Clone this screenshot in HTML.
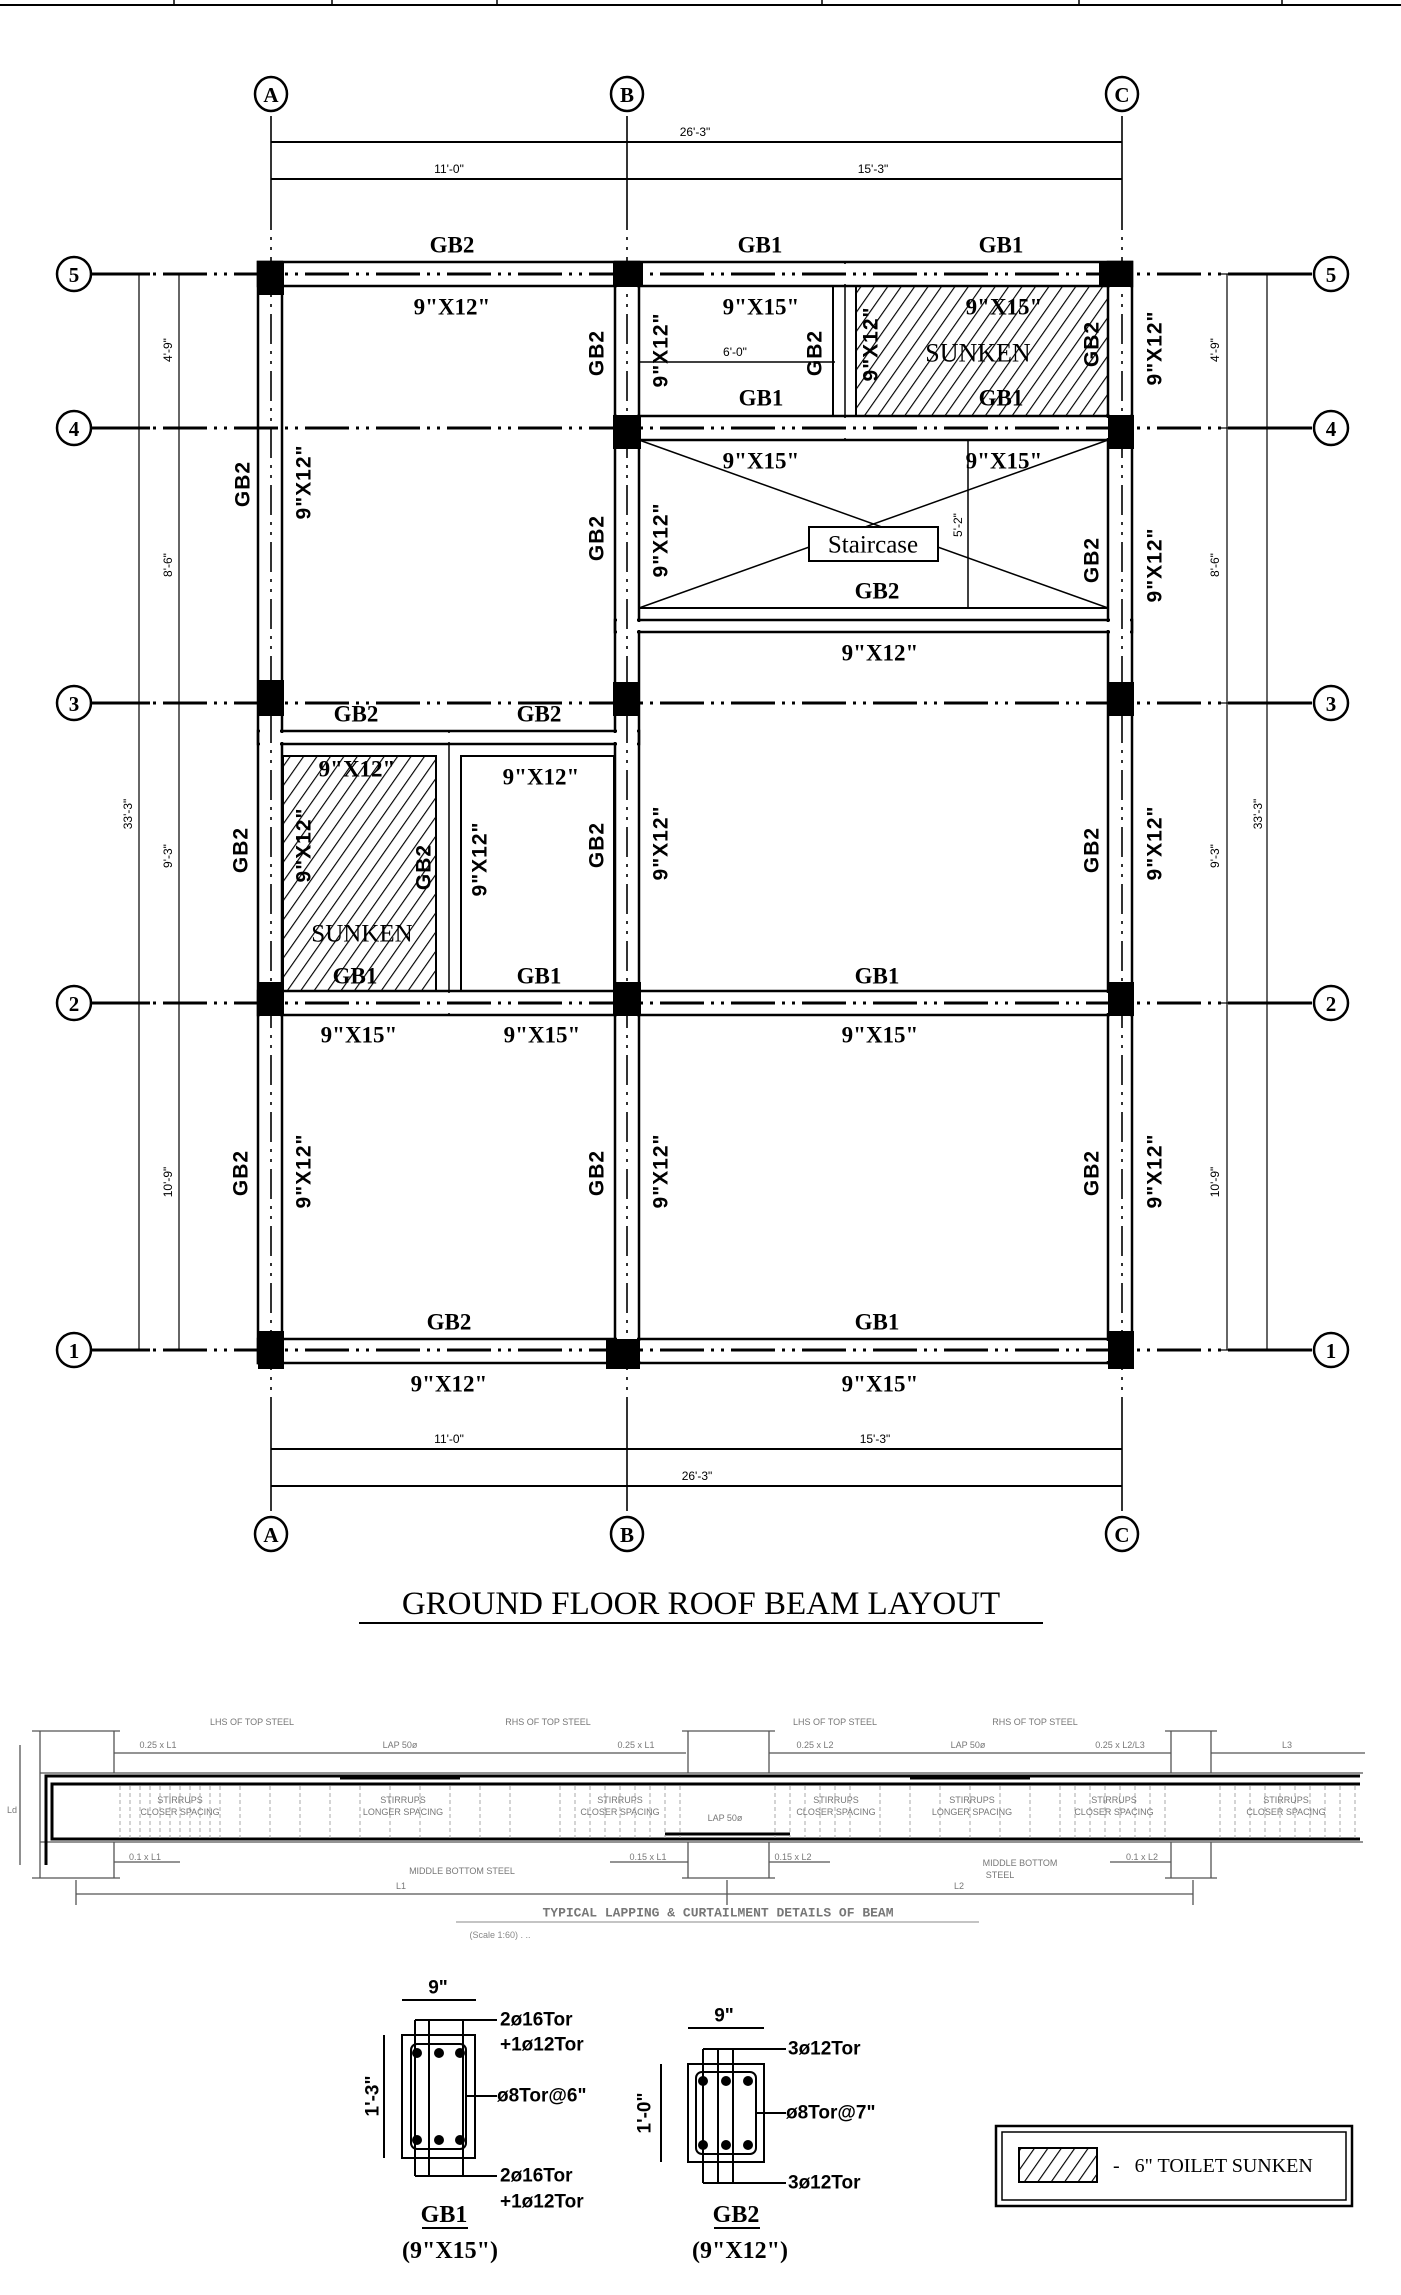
<!DOCTYPE html>
<html><head><meta charset="utf-8"><style>
html,body{margin:0;padding:0;background:#fff;}
svg{display:block;}
.b{font-family:"Liberation Serif",serif;font-weight:bold;font-size:23px;text-anchor:middle;dominant-baseline:central;}
.v{font-family:"Liberation Sans",sans-serif;font-weight:bold;font-size:21px;letter-spacing:1px;text-anchor:middle;dominant-baseline:central;}
.d{font-family:"Liberation Sans",sans-serif;font-size:12px;text-anchor:middle;dominant-baseline:central;}
.s{font-family:"Liberation Sans",sans-serif;font-size:9px;fill:#777;text-anchor:middle;dominant-baseline:central;}
.bub{font-family:"Liberation Serif",serif;font-weight:bold;font-size:21px;text-anchor:middle;dominant-baseline:central;}
</style></head><body>
<svg width="1401" height="2295" viewBox="0 0 1401 2295" xmlns="http://www.w3.org/2000/svg">
<defs>
<pattern id="h" width="11" height="11" patternUnits="userSpaceOnUse" patternTransform="rotate(35)">
<line x1="0" y1="0" x2="0" y2="11" stroke="#000" stroke-width="2.3"/>
</pattern>
</defs>
<rect width="1401" height="2295" fill="#fff"/>
<line x1="0" y1="5" x2="1401" y2="5" stroke="#000" stroke-width="2"/>
<g stroke="#000" stroke-width="1.5">
<line x1="174" y1="0" x2="174" y2="5"/><line x1="332" y1="0" x2="332" y2="5"/><line x1="497" y1="0" x2="497" y2="5"/><line x1="822" y1="0" x2="822" y2="5"/><line x1="1079" y1="0" x2="1079" y2="5"/><line x1="1282" y1="0" x2="1282" y2="5"/>
</g>

<rect x="856" y="286" width="252" height="130" fill="url(#h)"/>
<rect x="283" y="756" width="153" height="235" fill="url(#h)"/>

<g fill="none" stroke="#000" stroke-width="2">
<rect x="639" y="286" width="194" height="130"/>
<rect x="856" y="286" width="252" height="130"/>
<rect x="639" y="440" width="469" height="168"/>
<rect x="639" y="632" width="469" height="359"/>
<rect x="283" y="756" width="153" height="235"/>
<rect x="461" y="756" width="153" height="235"/>
</g>
<g stroke="#000" stroke-width="1.5">
<line x1="845" y1="262" x2="845" y2="440"/>
<line x1="449" y1="731" x2="449" y2="1015"/>
<line x1="639" y1="440" x2="1108" y2="608"/>
<line x1="1108" y1="440" x2="639" y2="608"/>
<line x1="639" y1="362" x2="835" y2="362"/>
<line x1="968" y1="440" x2="968" y2="608"/>
</g>
<rect x="809" y="527" width="129" height="34" fill="#fff" stroke="#000" stroke-width="2"/>

<g fill="none" stroke="#000" stroke-width="2.5">
<rect x="258" y="262" width="24" height="1101"/>
<rect x="615" y="262" width="24" height="1101"/>
<rect x="1108" y="262" width="24" height="1101"/>
<rect x="258" y="262" width="874" height="24"/>
<rect x="615" y="416" width="517" height="24"/>
<rect x="615" y="620" width="517" height="12"/>
<rect x="258" y="731" width="381" height="13"/>
<rect x="258" y="991" width="874" height="24"/>
<rect x="258" y="1339" width="874" height="24"/>
</g>
<g fill="#fff">
<rect x="260" y="264" width="20" height="1097"/>
<rect x="617" y="264" width="20" height="1097"/>
<rect x="1110" y="264" width="20" height="1097"/>
<rect x="260" y="264" width="870" height="20"/>
<rect x="617" y="418" width="513" height="20"/>
<rect x="617" y="622" width="513" height="8"/>
<rect x="260" y="733" width="377" height="9"/>
<rect x="260" y="993" width="870" height="20"/>
<rect x="260" y="1341" width="870" height="20"/>
</g>

<g stroke="#000" stroke-width="3" stroke-dasharray="44 7 3 7 3 7">
<line x1="92" y1="274" x2="1312" y2="274"/>
<line x1="92" y1="428" x2="1312" y2="428"/>
<line x1="92" y1="703" x2="1312" y2="703"/>
<line x1="92" y1="1003" x2="1312" y2="1003"/>
<line x1="92" y1="1350" x2="1312" y2="1350"/>
</g>
<g stroke="#000" stroke-width="1.6" stroke-dasharray="30 7 3 7 3 7">
<line x1="271" y1="200" x2="271" y2="1420"/>
<line x1="627" y1="200" x2="627" y2="1420"/>
<line x1="1122" y1="200" x2="1122" y2="1420"/>
</g>
<g stroke="#000" stroke-width="3">
<line x1="92" y1="274" x2="150" y2="274"/><line x1="1260" y1="274" x2="1312" y2="274"/>
<line x1="92" y1="428" x2="150" y2="428"/><line x1="1260" y1="428" x2="1312" y2="428"/>
<line x1="92" y1="703" x2="150" y2="703"/><line x1="1260" y1="703" x2="1312" y2="703"/>
<line x1="92" y1="1003" x2="150" y2="1003"/><line x1="1260" y1="1003" x2="1312" y2="1003"/>
<line x1="92" y1="1350" x2="150" y2="1350"/><line x1="1260" y1="1350" x2="1312" y2="1350"/>
</g>
<g stroke="#000" stroke-width="1.6">
<line x1="271" y1="116" x2="271" y2="200"/><line x1="627" y1="116" x2="627" y2="200"/><line x1="1122" y1="116" x2="1122" y2="200"/>
<line x1="271" y1="1420" x2="271" y2="1511"/><line x1="627" y1="1420" x2="627" y2="1511"/><line x1="1122" y1="1420" x2="1122" y2="1511"/>
</g>

<g fill="#000">
<rect x="257" y="261" width="27" height="34"/>
<rect x="613" y="261" width="30" height="26"/>
<rect x="1099" y="261" width="34" height="26"/>
<rect x="613" y="415" width="28" height="34"/>
<rect x="1108" y="415" width="26" height="34"/>
<rect x="258" y="680" width="26" height="36"/>
<rect x="613" y="682" width="26" height="34"/>
<rect x="1108" y="682" width="26" height="34"/>
<rect x="258" y="982" width="26" height="34"/>
<rect x="613" y="982" width="28" height="34"/>
<rect x="1108" y="982" width="26" height="34"/>
<rect x="258" y="1331" width="26" height="38"/>
<rect x="606" y="1339" width="34" height="30"/>
<rect x="1108" y="1331" width="26" height="38"/>
</g>

<g stroke="#000" stroke-width="2">
<line x1="271" y1="142" x2="1122" y2="142"/>
<line x1="271" y1="179" x2="1122" y2="179"/>
<line x1="271" y1="1449" x2="1122" y2="1449"/>
<line x1="271" y1="1486" x2="1122" y2="1486"/>
</g>
<g stroke="#000" stroke-width="1.2">
<line x1="139" y1="274" x2="139" y2="1350"/>
<line x1="179" y1="274" x2="179" y2="1350"/>
<line x1="1227" y1="274" x2="1227" y2="1350"/>
<line x1="1267" y1="274" x2="1267" y2="1350"/>
<line x1="132" y1="274" x2="146" y2="274"/><line x1="132" y1="1350" x2="146" y2="1350"/>
<line x1="172" y1="274" x2="186" y2="274"/><line x1="172" y1="428" x2="186" y2="428"/><line x1="172" y1="703" x2="186" y2="703"/><line x1="172" y1="1003" x2="186" y2="1003"/><line x1="172" y1="1350" x2="186" y2="1350"/>
<line x1="1220" y1="274" x2="1234" y2="274"/><line x1="1220" y1="428" x2="1234" y2="428"/><line x1="1220" y1="703" x2="1234" y2="703"/><line x1="1220" y1="1003" x2="1234" y2="1003"/><line x1="1220" y1="1350" x2="1234" y2="1350"/>
<line x1="1260" y1="274" x2="1274" y2="274"/><line x1="1260" y1="1350" x2="1274" y2="1350"/>
</g>

<g fill="#fff" stroke="#000" stroke-width="2.5">
<ellipse cx="271" cy="94" rx="16" ry="17"/><ellipse cx="627" cy="94" rx="16" ry="17"/><ellipse cx="1122" cy="94" rx="16" ry="17"/>
<ellipse cx="271" cy="1534" rx="16" ry="17"/><ellipse cx="627" cy="1534" rx="16" ry="17"/><ellipse cx="1122" cy="1534" rx="16" ry="17"/>
<ellipse cx="74" cy="274" rx="17" ry="17"/><ellipse cx="74" cy="428" rx="17" ry="17"/><ellipse cx="74" cy="703" rx="17" ry="17"/><ellipse cx="74" cy="1003" rx="17" ry="17"/><ellipse cx="74" cy="1350" rx="17" ry="17"/>
<ellipse cx="1331" cy="274" rx="17" ry="17"/><ellipse cx="1331" cy="428" rx="17" ry="17"/><ellipse cx="1331" cy="703" rx="17" ry="17"/><ellipse cx="1331" cy="1003" rx="17" ry="17"/><ellipse cx="1331" cy="1350" rx="17" ry="17"/>
</g>
<g>
<text x="271" y="95" class="bub">A</text><text x="627" y="95" class="bub">B</text><text x="1122" y="95" class="bub">C</text>
<text x="271" y="1535" class="bub">A</text><text x="627" y="1535" class="bub">B</text><text x="1122" y="1535" class="bub">C</text>
<text x="74" y="275" class="bub">5</text><text x="74" y="429" class="bub">4</text><text x="74" y="704" class="bub">3</text><text x="74" y="1004" class="bub">2</text><text x="74" y="1351" class="bub">1</text>
<text x="1331" y="275" class="bub">5</text><text x="1331" y="429" class="bub">4</text><text x="1331" y="704" class="bub">3</text><text x="1331" y="1004" class="bub">2</text><text x="1331" y="1351" class="bub">1</text>
</g>

<text x="695" y="132" class="d">26'-3"</text>
<text x="449" y="169" class="d">11'-0"</text>
<text x="873" y="169" class="d">15'-3"</text>
<text x="449" y="1439" class="d">11'-0"</text>
<text x="875" y="1439" class="d">15'-3"</text>
<text x="697" y="1476" class="d">26'-3"</text>
<text x="735" y="352" class="d">6'-0"</text>
<g>
<text transform="translate(168,350) rotate(-90)" class="d">4'-9"</text>
<text transform="translate(168,565) rotate(-90)" class="d">8'-6"</text>
<text transform="translate(168,856) rotate(-90)" class="d">9'-3"</text>
<text transform="translate(168,1182) rotate(-90)" class="d">10'-9"</text>
<text transform="translate(128,814) rotate(-90)" class="d">33'-3"</text>
<text transform="translate(1215,350) rotate(-90)" class="d">4'-9"</text>
<text transform="translate(1215,565) rotate(-90)" class="d">8'-6"</text>
<text transform="translate(1215,856) rotate(-90)" class="d">9'-3"</text>
<text transform="translate(1215,1182) rotate(-90)" class="d">10'-9"</text>
<text transform="translate(1258,814) rotate(-90)" class="d">33'-3"</text>
<text transform="translate(958,525) rotate(-90)" class="d">5'-2"</text>
</g>

<text x="452" y="245" class="b">GB2</text>
<text x="760" y="245" class="b">GB1</text>
<text x="1001" y="245" class="b">GB1</text>
<text x="452" y="307" class="b">9"X12"</text>
<text x="761" y="307" class="b">9"X15"</text>
<text x="1004" y="307" class="b">9"X15"</text>
<text x="978" y="353" style="font-family:'Liberation Serif',serif;font-size:26px;text-anchor:middle;dominant-baseline:central">SUNKEN</text>
<text x="761" y="398" class="b">GB1</text>
<text x="1001" y="398" class="b">GB1</text>
<text x="761" y="461" class="b">9"X15"</text>
<text x="1004" y="461" class="b">9"X15"</text>
<text x="873" y="545" style="font-family:'Liberation Serif',serif;font-size:25px;text-anchor:middle;dominant-baseline:central">Staircase</text>
<text x="877" y="591" class="b">GB2</text>
<text x="880" y="653" class="b">9"X12"</text>
<text x="356" y="714" class="b">GB2</text>
<text x="539" y="714" class="b">GB2</text>
<text x="357" y="769" class="b">9"X12"</text>
<text x="541" y="777" class="b">9"X12"</text>
<text x="362" y="934" style="font-family:'Liberation Serif',serif;font-size:25px;text-anchor:middle;dominant-baseline:central">SUNKEN</text>
<text x="355" y="976" class="b">GB1</text>
<text x="539" y="976" class="b">GB1</text>
<text x="877" y="976" class="b">GB1</text>
<text x="359" y="1035" class="b">9"X15"</text>
<text x="542" y="1035" class="b">9"X15"</text>
<text x="880" y="1035" class="b">9"X15"</text>
<text x="449" y="1322" class="b">GB2</text>
<text x="877" y="1322" class="b">GB1</text>
<text x="449" y="1384" class="b">9"X12"</text>
<text x="880" y="1384" class="b">9"X15"</text>

<text transform="translate(243,484) rotate(-90)" class="v">GB2</text>
<text transform="translate(304,482) rotate(-90)" class="v">9"X12"</text>
<text transform="translate(597,353) rotate(-90)" class="v">GB2</text>
<text transform="translate(661,350) rotate(-90)" class="v">9"X12"</text>
<text transform="translate(815,353) rotate(-90)" class="v">GB2</text>
<text transform="translate(871,344) rotate(-90)" class="v">9"X12"</text>
<text transform="translate(1092,344) rotate(-90)" class="v">GB2</text>
<text transform="translate(1155,348) rotate(-90)" class="v">9"X12"</text>
<text transform="translate(597,538) rotate(-90)" class="v">GB2</text>
<text transform="translate(661,540) rotate(-90)" class="v">9"X12"</text>
<text transform="translate(1092,560) rotate(-90)" class="v">GB2</text>
<text transform="translate(1155,565) rotate(-90)" class="v">9"X12"</text>
<text transform="translate(241,850) rotate(-90)" class="v">GB2</text>
<text transform="translate(304,845) rotate(-90)" class="v">9"X12"</text>
<text transform="translate(424,867) rotate(-90)" class="v">GB2</text>
<text transform="translate(480,859) rotate(-90)" class="v">9"X12"</text>
<text transform="translate(597,845) rotate(-90)" class="v">GB2</text>
<text transform="translate(661,843) rotate(-90)" class="v">9"X12"</text>
<text transform="translate(1092,850) rotate(-90)" class="v">GB2</text>
<text transform="translate(1155,843) rotate(-90)" class="v">9"X12"</text>
<text transform="translate(241,1173) rotate(-90)" class="v">GB2</text>
<text transform="translate(304,1171) rotate(-90)" class="v">9"X12"</text>
<text transform="translate(597,1173) rotate(-90)" class="v">GB2</text>
<text transform="translate(661,1171) rotate(-90)" class="v">9"X12"</text>
<text transform="translate(1092,1173) rotate(-90)" class="v">GB2</text>
<text transform="translate(1155,1171) rotate(-90)" class="v">9"X12"</text>

<text x="701" y="1604" style="font-family:'Liberation Serif',serif;font-size:33px;text-anchor:middle;dominant-baseline:central">GROUND FLOOR ROOF BEAM LAYOUT</text>
<line x1="359" y1="1623" x2="1043" y2="1623" stroke="#000" stroke-width="2"/>

<g stroke="#555" stroke-width="1.3" fill="none">
<line x1="40" y1="1773" x2="1363" y2="1773"/>
<line x1="40" y1="1842" x2="1363" y2="1842"/>
<path d="M40,1731 L40,1878 M114,1731 L114,1773 M114,1842 L114,1878"/>
<path d="M688,1731 L688,1773 M769,1731 L769,1773 M688,1842 L688,1878 M769,1842 L769,1878"/>
<path d="M1171,1731 L1171,1773 M1211,1731 L1211,1773 M1171,1842 L1171,1878 M1211,1842 L1211,1878"/>
<path d="M32,1731 L120,1731 M32,1878 L120,1878 M682,1731 L775,1731 M682,1878 L775,1878 M1165,1731 L1217,1731 M1165,1878 L1217,1878"/>
<line x1="114" y1="1753" x2="686" y2="1753"/>
<line x1="769" y1="1753" x2="1171" y2="1753"/>
<line x1="1211" y1="1753" x2="1365" y2="1753"/>
<line x1="114" y1="1862" x2="180" y2="1862"/><line x1="610" y1="1862" x2="688" y2="1862"/>
<line x1="769" y1="1862" x2="830" y2="1862"/><line x1="1110" y1="1862" x2="1171" y2="1862"/>
<line x1="76" y1="1894" x2="1193" y2="1894"/>
<line x1="76" y1="1880" x2="76" y2="1905"/><line x1="1193" y1="1880" x2="1193" y2="1905"/><line x1="727" y1="1880" x2="727" y2="1905"/>
<line x1="20" y1="1745" x2="20" y2="1865"/>
</g>
<g stroke="#000" stroke-width="3" fill="none">
<path d="M1360,1776 L46,1776 L46,1865"/>
<path d="M1360,1839 L52,1839 L52,1784 L1360,1784"/>
<path d="M340,1778 L460,1778 M910,1778 L1030,1778 M665,1834 L790,1834"/>
</g>
<g stroke="#aaa" stroke-width="1" stroke-dasharray="4 3">
<path d="M120,1786V1838 M130,1786V1838 M140,1786V1838 M150,1786V1838 M160,1786V1838 M170,1786V1838 M180,1786V1838 M190,1786V1838 M200,1786V1838 M210,1786V1838 M220,1786V1838 M240,1786V1838 M270,1786V1838 M300,1786V1838 M330,1786V1838 M360,1786V1838 M390,1786V1838 M420,1786V1838 M450,1786V1838 M480,1786V1838 M510,1786V1838 M560,1786V1838 M575,1786V1838 M590,1786V1838 M605,1786V1838 M620,1786V1838 M635,1786V1838 M650,1786V1838 M665,1786V1838 M680,1786V1838"/>
<path d="M775,1786V1838 M790,1786V1838 M805,1786V1838 M820,1786V1838 M835,1786V1838 M850,1786V1838 M880,1786V1838 M910,1786V1838 M940,1786V1838 M970,1786V1838 M1000,1786V1838 M1030,1786V1838 M1060,1786V1838 M1075,1786V1838 M1090,1786V1838 M1105,1786V1838 M1120,1786V1838 M1135,1786V1838 M1150,1786V1838 M1165,1786V1838 M1220,1786V1838 M1235,1786V1838 M1250,1786V1838 M1265,1786V1838 M1280,1786V1838 M1295,1786V1838 M1310,1786V1838 M1325,1786V1838 M1340,1786V1838 M1355,1786V1838"/>
</g>
<g>
<text x="158" y="1745" class="s">0.25 x L1</text><text x="400" y="1745" class="s">LAP 50ø</text><text x="636" y="1745" class="s">0.25 x L1</text>
<text x="815" y="1745" class="s">0.25 x L2</text><text x="968" y="1745" class="s">LAP 50ø</text><text x="1120" y="1745" class="s">0.25 x L2/L3</text><text x="1287" y="1745" class="s">L3</text>
<text x="252" y="1722" class="s">LHS OF TOP STEEL</text><text x="548" y="1722" class="s">RHS OF TOP STEEL</text><text x="835" y="1722" class="s">LHS OF TOP STEEL</text><text x="1035" y="1722" class="s">RHS OF TOP STEEL</text>
<text x="180" y="1800" class="s">STIRRUPS</text><text x="180" y="1812" class="s">CLOSER SPACING</text>
<text x="403" y="1800" class="s">STIRRUPS</text><text x="403" y="1812" class="s">LONGER SPACING</text>
<text x="620" y="1800" class="s">STIRRUPS</text><text x="620" y="1812" class="s">CLOSER SPACING</text>
<text x="836" y="1800" class="s">STIRRUPS</text><text x="836" y="1812" class="s">CLOSER SPACING</text>
<text x="972" y="1800" class="s">STIRRUPS</text><text x="972" y="1812" class="s">LONGER SPACING</text>
<text x="1114" y="1800" class="s">STIRRUPS</text><text x="1114" y="1812" class="s">CLOSER SPACING</text>
<text x="1286" y="1800" class="s">STIRRUPS</text><text x="1286" y="1812" class="s">CLOSER SPACING</text>
<text x="725" y="1818" class="s">LAP 50ø</text>
<text x="145" y="1857" class="s">0.1 x L1</text><text x="648" y="1857" class="s">0.15 x L1</text><text x="793" y="1857" class="s">0.15 x L2</text><text x="1142" y="1857" class="s">0.1 x L2</text>
<text x="462" y="1871" class="s">MIDDLE BOTTOM STEEL</text><text x="1020" y="1863" class="s">MIDDLE BOTTOM</text><text x="1000" y="1875" class="s">STEEL</text>
<text x="401" y="1886" class="s">L1</text><text x="959" y="1886" class="s">L2</text>
<text x="12" y="1810" class="s">Ld</text>
<text x="718" y="1913" style="font-family:'Liberation Mono',monospace;font-weight:bold;font-size:13px;fill:#777;text-anchor:middle;dominant-baseline:central">TYPICAL LAPPING &amp; CURTAILMENT DETAILS OF BEAM</text>
<text x="500" y="1935" style="font-family:'Liberation Sans',sans-serif;font-size:9px;fill:#888;text-anchor:middle;dominant-baseline:central">(Scale 1:60) . ..</text>
</g>
<line x1="456" y1="1922" x2="979" y2="1922" stroke="#888" stroke-width="1"/>

<g stroke="#000" fill="none" stroke-width="2">
<rect x="402" y="2035" width="73" height="123"/>
<rect x="411" y="2044" width="55" height="105" rx="6"/>
<line x1="415" y1="2020" x2="415" y2="2176"/><line x1="429" y1="2020" x2="429" y2="2176"/><line x1="463" y1="2020" x2="463" y2="2176"/>
<line x1="415" y1="2020" x2="497" y2="2020"/><line x1="415" y1="2176" x2="497" y2="2176"/>
<line x1="466" y1="2096" x2="497" y2="2096"/>
<line x1="402" y1="2000" x2="476" y2="2000"/>
<line x1="384" y1="2035" x2="384" y2="2158"/>
</g>
<g fill="#000"><circle cx="417" cy="2053" r="5"/><circle cx="439" cy="2053" r="5"/><circle cx="460" cy="2053" r="5"/><circle cx="417" cy="2140" r="5"/><circle cx="439" cy="2140" r="5"/><circle cx="460" cy="2140" r="5"/></g>
<g stroke="#000" fill="none" stroke-width="2">
<rect x="688" y="2064" width="76" height="98"/>
<rect x="696" y="2072" width="60" height="82" rx="6"/>
<line x1="703" y1="2049" x2="703" y2="2183"/><line x1="718" y1="2049" x2="718" y2="2183"/><line x1="733" y1="2049" x2="733" y2="2183"/>
<line x1="703" y1="2049" x2="786" y2="2049"/><line x1="703" y1="2183" x2="786" y2="2183"/>
<line x1="756" y1="2113" x2="786" y2="2113"/>
<line x1="688" y1="2028" x2="764" y2="2028"/>
<line x1="661" y1="2064" x2="661" y2="2162"/>
</g>
<g fill="#000"><circle cx="703" cy="2081" r="5"/><circle cx="726" cy="2081" r="5"/><circle cx="748" cy="2081" r="5"/><circle cx="703" cy="2145" r="5"/><circle cx="726" cy="2145" r="5"/><circle cx="748" cy="2145" r="5"/></g>
<g style="font-family:'Liberation Sans',sans-serif;font-weight:bold;font-size:19px;dominant-baseline:central">
<text x="438" y="1988" text-anchor="middle">9"</text>
<text x="500" y="2020">2ø16Tor</text><text x="500" y="2045">+1ø12Tor</text>
<text x="497" y="2096">ø8Tor@6"</text>
<text x="500" y="2176">2ø16Tor</text><text x="500" y="2202">+1ø12Tor</text>
<text x="724" y="2016" text-anchor="middle">9"</text>
<text x="788" y="2049">3ø12Tor</text>
<text x="786" y="2113">ø8Tor@7"</text>
<text x="788" y="2183">3ø12Tor</text>
<text transform="translate(373,2096) rotate(-90)" text-anchor="middle">1'-3"</text>
<text transform="translate(645,2113) rotate(-90)" text-anchor="middle">1'-0"</text>
</g>
<g style="font-family:'Liberation Serif',serif;font-weight:bold;font-size:24px;text-anchor:middle;dominant-baseline:central">
<text x="444" y="2215">GB1</text><text x="450" y="2251">(9"X15")</text>
<text x="736" y="2215">GB2</text><text x="740" y="2251">(9"X12")</text>
</g>
<line x1="422" y1="2228" x2="468" y2="2228" stroke="#000" stroke-width="2"/>
<line x1="714" y1="2228" x2="760" y2="2228" stroke="#000" stroke-width="2"/>

<rect x="996" y="2126" width="356" height="80" fill="none" stroke="#000" stroke-width="2.5"/>
<rect x="1002" y="2132" width="344" height="68" fill="none" stroke="#000" stroke-width="1.5"/>
<rect x="1019" y="2148" width="78" height="34" fill="url(#h)" stroke="#000" stroke-width="2"/>
<text x="1113" y="2166" style="font-family:'Liberation Serif',serif;font-size:20px;dominant-baseline:central">-&#160;&#160; 6" TOILET SUNKEN</text>
</svg>
</body></html>
